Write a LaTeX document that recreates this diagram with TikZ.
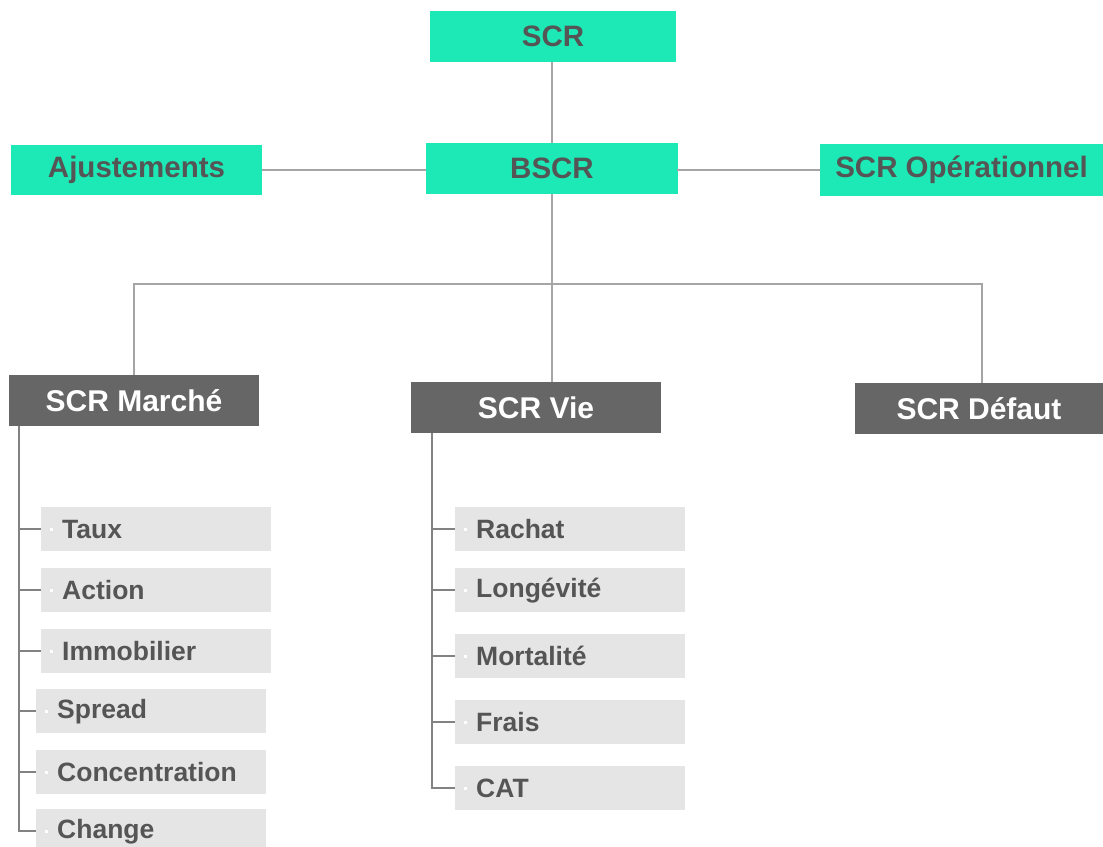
\documentclass[tikz,border=0pt]{standalone}
\usepackage{fontspec}
\setmainfont{Liberation Sans}
\usetikzlibrary{calc}
\definecolor{scrgreen}{RGB}{29,233,182}
\definecolor{modgray}{RGB}{102,102,102}
\definecolor{subgray}{RGB}{229,229,229}
\definecolor{txtgray}{RGB}{85,85,85}
\definecolor{wiregray}{RGB}{165,165,165}
\definecolor{trunkgray}{RGB}{130,130,130}
\tikzset{
  x=1pt, y=-1pt,
  topbox/.style={rectangle, fill=scrgreen, text=txtgray, inner sep=0pt,
    font=\fontsize{29.5}{31}\selectfont\bfseries},
  modbox/.style={rectangle, fill=modgray, text=white, inner sep=0pt,
    minimum width=250pt, minimum height=51pt,
    font=\fontsize{30}{32}\selectfont\bfseries},
  subbox/.style={rectangle, fill=subgray, text=txtgray, anchor=north west,
    inner xsep=21pt, inner ysep=0pt, text width=188pt, align=left,
    minimum height=44pt, font=\fontsize{26.5}{28}\selectfont\bfseries,
    path picture={\fill[white] ([xshift=9pt,yshift=-1.5pt]path picture bounding box.west) rectangle ++(3pt,3pt);}},
  wire/.style={draw=wiregray, line width=2.2pt},
  trunk/.style={draw=trunkgray, line width=2.4pt},
}
\begin{document}
\begin{tikzpicture}
\useasboundingbox (0,0) rectangle (1103,846);

% top level
\node[topbox, minimum width=246pt, minimum height=51pt] (scr) at (553,36.5) {SCR};
\node[topbox, minimum width=252pt, minimum height=51pt] (bscr) at (552,168.5) {BSCR};
\node[topbox, minimum width=251pt, minimum height=50pt] (ajust) at (136.5,170) {Ajustements};
\node[topbox, minimum width=283pt, minimum height=52pt] (oper) at (961.5,170) {SCR Opérationnel};

% risk modules
\node[modbox] (marche) at (134,400.5) {SCR Marché};
\node[modbox] (vie) at (536,407.5) {SCR Vie};
\node[modbox, minimum width=248pt] (defaut) at (979,408.5) {SCR Défaut};

\coordinate (bus) at (552,284);

% sub-modules of SCR Marché
\node[subbox] (taux)   at (41,507) {Taux};
\node[subbox] (action) at (41,568) {Action};
\node[subbox] (immo)   at (41,629) {Immobilier};
\node[subbox] (spread) at (36,689) {Spread};
\node[subbox] (conc)   at (36,750) {Concentration};
\node[subbox] (change) at (36,809) {Change};

% sub-modules of SCR Vie
\node[subbox] (rachat) at (455,507) {Rachat};
\node[subbox] (longev) at (455,568) {Longévité};
\node[subbox] (mort)   at (455,634) {Mortalité};
\node[subbox] (frais)  at (455,700) {Frais};
\node[subbox] (cat)    at (455,766) {CAT};

% connectors
\draw[wire] (bscr.north |- scr.south) -- (bscr.north);
\draw[wire] (ajust.east) -- (ajust.east -| bscr.west);
\draw[wire] (bscr.east) -- (bscr.east |- oper.west) -- (oper.west);
\draw[wire] (bscr.south) -- (bscr.south |- vie.north);
\draw[wire] (marche.north) |- (bus) -| ([xshift=3pt]defaut.north);

% trunks
\coordinate (mtrunk) at ([xshift=10pt]marche.south west);
\coordinate (vtrunk) at ([xshift=21pt]vie.south west);
\draw[trunk] (mtrunk) |- (change.west);
\foreach \c in {taux,action,immo,spread,conc}
  \draw[trunk, line width=1.8pt] (mtrunk |- \c.west) -- (\c.west);
\draw[trunk] (vtrunk) |- (cat.west);
\foreach \c in {rachat,longev,mort,frais}
  \draw[trunk, line width=1.8pt] (vtrunk |- \c.west) -- (\c.west);
\end{tikzpicture}
\end{document}
